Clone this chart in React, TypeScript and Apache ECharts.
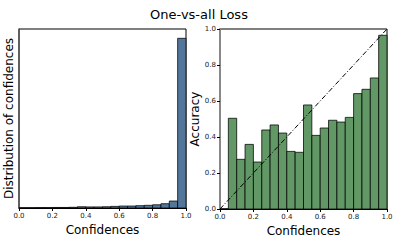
import React, { useEffect, useRef } from "react";
import * as echarts from "echarts";

const binStarts = [0, 0.05, 0.1, 0.15, 0.2, 0.25, 0.3, 0.35, 0.4, 0.45, 0.5, 0.55, 0.6, 0.65, 0.7, 0.75, 0.8, 0.85, 0.9, 0.95];
const binWidth = 0.05;
const confDist = [0.001, 0.001, 0.002, 0.002, 0.003, 0.003, 0.004, 0.007, 0.006, 0.006, 0.007, 0.009, 0.011, 0.011, 0.013, 0.015, 0.018, 0.024, 0.039, 0.948];
const accuracy = [0, 0.504, 0.276, 0.359, 0.261, 0.439, 0.467, 0.422, 0.32, 0.315, 0.578, 0.409, 0.45, 0.493, 0.483, 0.509, 0.641, 0.665, 0.728, 0.965];
const diagonal = [[0, 0], [1, 1]];

const FONT = "DejaVu Sans";

function histItem(fill: string) {
  return (params: any, api: any) => {
    const x0 = api.value(0);
    const x1 = api.value(1);
    const y = api.value(2);
    const p0 = api.coord([x0, 0]);
    const p1 = api.coord([x1, y]);
    return {
      type: "rect",
      shape: { x: p0[0], y: p1[1], width: p1[0] - p0[0], height: p0[1] - p1[1] },
      style: { fill, stroke: "rgba(0,0,0,0.75)", lineWidth: 1 },
    };
  };
}

export default function App() {
  const ref = useRef<HTMLDivElement>(null);
  useEffect(() => {
    if (!ref.current) return;
    const chart = echarts.init(ref.current, null, { renderer: "svg" });
    const xAxisBase = (gridIndex: number) => ({
      type: "value",
      gridIndex,
      min: 0,
      max: 1,
      interval: 0.2,
      name: "Confidences",
      nameLocation: "middle",
      nameGap: 16,
      nameTextStyle: { fontFamily: FONT, fontSize: 12, color: "#000" },
      axisLine: { show: true, lineStyle: { color: "#000", width: 1 } },
      axisTick: { show: true, length: 3, lineStyle: { color: "#000" } },
      axisLabel: {
        fontFamily: FONT,
        fontSize: 7,
        color: "#222",
        margin: 4,
        formatter: (v: number) => v.toFixed(1),
      },
      splitLine: { show: false },
    });
    chart.setOption({
      animation: false,
      backgroundColor: "#fff",
      title: {
        text: "One-vs-all Loss",
        left: "center",
        top: 3,
        textStyle: { fontFamily: FONT, fontSize: 13, fontWeight: "normal", color: "#000" },
      },
      grid: [
        { left: 19, top: 29, width: 167, height: 179, show: true, borderColor: "#000", borderWidth: 1, backgroundColor: "transparent", containLabel: false, outerBoundsMode: "none" },
        { left: 220, top: 29, width: 167, height: 180, show: true, borderColor: "#000", borderWidth: 1, backgroundColor: "transparent", containLabel: false, outerBoundsMode: "none" },
      ],
      xAxis: [xAxisBase(0), xAxisBase(1)],
      yAxis: [
        {
          type: "value",
          gridIndex: 0,
          min: 0,
          max: 1,
          name: "Distribution of confidences",
          nameLocation: "middle",
          nameGap: 4,
          nameTextStyle: { fontFamily: FONT, fontSize: 12, color: "#000" },
          axisLine: { show: true, lineStyle: { color: "#555", width: 1.5 } },
          axisTick: { show: false },
          axisLabel: { show: false },
          splitLine: { show: false },
        },
        {
          type: "value",
          gridIndex: 1,
          min: 0,
          max: 1,
          interval: 0.2,
          name: "Accuracy",
          nameLocation: "middle",
          nameGap: 18,
          nameTextStyle: { fontFamily: FONT, fontSize: 12, color: "#000" },
          axisLine: { show: true, lineStyle: { color: "#888", width: 2 } },
          axisTick: { show: true, length: 3, lineStyle: { color: "#000" } },
          axisLabel: {
            fontFamily: FONT,
            fontSize: 7,
            color: "#222",
            margin: 4,
            formatter: (v: number) => v.toFixed(1),
          },
          splitLine: { show: false },
        },
      ],
      series: [
        {
          type: "custom",
          xAxisIndex: 0,
          yAxisIndex: 0,
          renderItem: histItem("#52779b"),
          encode: { x: [0, 1], y: 2 },
          data: binStarts.map((s, i) => [s, s + binWidth, confDist[i]]),
        },
        {
          type: "custom",
          xAxisIndex: 1,
          yAxisIndex: 1,
          renderItem: histItem("#619865"),
          encode: { x: [0, 1], y: 2 },
          data: binStarts.map((s, i) => [s, s + binWidth, accuracy[i]]),
        },
        {
          type: "line",
          xAxisIndex: 1,
          yAxisIndex: 1,
          data: diagonal,
          symbol: "none",
          lineStyle: { color: "#000", width: 1, type: [5, 2, 1, 2] },
          z: 5,
        },
      ],
    });
    return () => chart.dispose();
  }, []);
  return <div ref={ref} style={{ width: 398, height: 241, position: "absolute", left: 0, top: 0 }} />;
}
